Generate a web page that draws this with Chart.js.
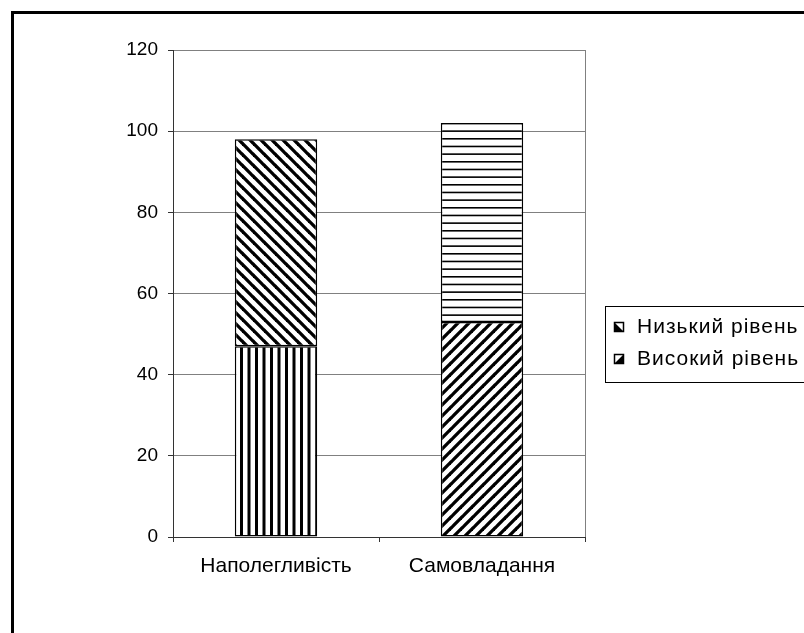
<!DOCTYPE html>
<html>
<head>
<meta charset="utf-8">
<script src="https://cdn.jsdelivr.net/npm/chart.js@4"></script>
<style>
  html, body { margin: 0; padding: 0; background: #fff; }
  #wrap { width: 804px; height: 633px; }
</style>
</head>
<body>
<div id="wrap"><canvas id="chart" width="804" height="633"></canvas></div>
<script>
// Data
const categories = ['Наполегливість', 'Самовладання'];
const highLevel = [47, 53];   // Високий рівень (bottom part)
const lowLevel = [51, 49];    // Низький рівень (top part)
const yMin = 0, yMax = 120, yStep = 20;

const FONT = '"Liberation Sans", Arial, sans-serif';

// hatch fills, one per bar part like the original
function makePattern(kind) {
    const c = document.createElement('canvas');
    const s = kind === 'horizontal' ? 23 : (kind === 'vertical' ? 15 : 11);
    c.width = s; c.height = s;
    const g = c.getContext('2d');
    g.fillStyle = '#fff';
    g.fillRect(0, 0, s, s);
    g.fillStyle = '#000';
    g.strokeStyle = '#000';
    if (kind === 'vertical') {
        g.fillRect(0, 0, 3, s);
        g.fillRect(7.5, 0, 3, s);
    } else if (kind === 'horizontal') {
        for (let i = 0; i < 3; i++) g.fillRect(0, i * s / 3, s, 1.6);
    } else {
        g.lineWidth = 3.3;
        for (let o = -s; o <= s; o += s) {
            g.beginPath();
            if (kind === 'down') { g.moveTo(o - 1, -1); g.lineTo(o + s + 1, s + 1); }
            else { g.moveTo(o - 1, s + 1); g.lineTo(o + s + 1, -1); }
            g.stroke();
        }
    }
    return g.createPattern(c, 'repeat');
}

const ctx0 = document.getElementById('chart').getContext('2d');
const pVert = makePattern('vertical');
const pHoriz = makePattern('horizontal');
const pDown = makePattern('down');
const pUp = makePattern('up');

// frame, right edge of plot and the boxed legend
const decor = {
    id: 'decor',
    beforeDraw(chart) {
        const c = chart.ctx;
        c.save();
        c.fillStyle = '#fff';
        c.fillRect(0, 0, chart.width, chart.height);
        c.restore();
    },
    afterDraw(chart) {
        const c = chart.ctx;
        const a = chart.chartArea;
        c.save();
        // outer border
        c.strokeStyle = '#000';
        c.lineWidth = 3;
        c.strokeRect(12.5, 12.5, 900, 900);
        // right side of plot
        c.strokeStyle = '#808080';
        c.lineWidth = 1;
        c.beginPath();
        c.moveTo(Math.round(a.right) + 0.5, a.top);
        c.lineTo(Math.round(a.right) + 0.5, a.bottom);
        c.stroke();
        // legend box
        c.strokeStyle = '#000';
        c.lineWidth = 1;
        c.strokeRect(605.5, 306.5, 300, 76);
        const items = chart.data.datasets.slice().reverse();
        c.font = '21px ' + FONT;
        c.letterSpacing = '1px';
        c.textBaseline = 'middle';
        c.textAlign = 'left';
        items.forEach((ds, i) => {
            const y = 327 + i * 32;
            const x0 = 614.5, y0 = y - 4.5, s = 9;
            c.fillStyle = '#fff';
            c.fillRect(x0, y0, s, s);
            c.fillStyle = '#000';
            c.beginPath();
            if (i === 0) { c.moveTo(x0, y0); c.lineTo(x0, y0 + s); c.lineTo(x0 + s, y0 + s); }
            else { c.moveTo(x0 + s, y0); c.lineTo(x0 + s, y0 + s); c.lineTo(x0, y0 + s); }
            c.closePath();
            c.fill();
            c.strokeStyle = '#000';
            c.lineWidth = 1.5;
            c.strokeRect(x0, y0, s, s);
            c.fillStyle = '#000';
            c.fillText(ds.label, 637, y);
        });
        c.restore();
    }
};

new Chart(ctx0, {
    type: 'bar',
    data: {
        labels: categories,
        datasets: [
            {
                label: 'Високий рівень',
                data: highLevel,
                backgroundColor: [pVert, pUp],
                borderColor: '#000',
                borderWidth: 1.5,
                borderSkipped: false,
                barPercentage: 0.4,
                categoryPercentage: 1
            },
            {
                label: 'Низький рівень',
                data: lowLevel,
                backgroundColor: [pDown, pHoriz],
                borderColor: '#000',
                borderWidth: 1.5,
                borderSkipped: false,
                barPercentage: 0.4,
                categoryPercentage: 1
            }
        ]
    },
    options: {
        responsive: false,
        animation: false,
        layout: { padding: { top: 50, right: 219, left: 0, bottom: 0 } },
        plugins: {
            legend: { display: false },
            tooltip: { enabled: false }
        },
        scales: {
            x: {
                stacked: true,
                afterFit(scale) { scale.height = 96; },
                grid: { drawOnChartArea: false, tickLength: 5, tickColor: '#333', offset: true },
                border: { color: '#333', width: 1 },
                ticks: { color: '#000', padding: 12, font: { family: FONT, size: 21 } }
            },
            y: {
                stacked: true,
                min: yMin,
                max: yMax,
                afterFit(scale) { scale.width = 173; },
                grid: { color: '#808080', tickLength: 5, tickColor: '#333' },
                border: { color: '#333', width: 1 },
                ticks: { stepSize: yStep, color: '#000', padding: 10, font: { family: FONT, size: 19 } }
            }
        }
    },
    plugins: [decor]
});
</script>
</body>
</html>
